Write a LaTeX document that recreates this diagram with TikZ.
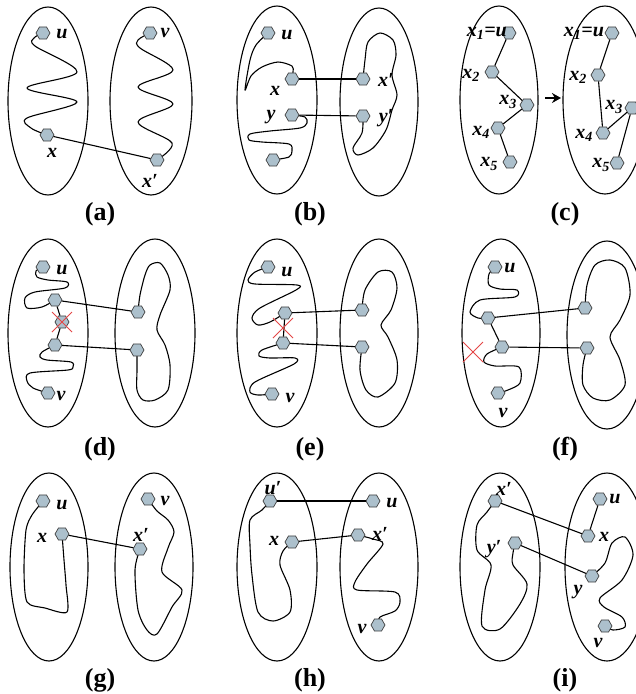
\documentclass[tikz,border=0pt]{standalone}
\usepackage{fontspec}
\setmainfont{Liberation Serif}
\usetikzlibrary{shapes.geometric,arrows.meta}
\pgfdeclarelayer{back}\pgfdeclarelayer{bg}\pgfsetlayers{back,bg,main}
\definecolor{vfill}{RGB}{172,192,204}
\definecolor{xred}{RGB}{228,70,70}
\tikzset{
 ell/.style={line width=1.1pt},
 wig/.style={line width=1.1pt,line join=round},
 vtx/.style={regular polygon,regular polygon sides=6,draw=black!75,fill=vfill,line width=0.7pt,minimum size=14pt,inner sep=0pt},
 lab/.style={font=\fontsize{20}{20}\selectfont\bfseries\itshape,inner sep=1pt},
 caplab/.style={font=\fontsize{26}{26}\selectfont\bfseries,inner sep=0pt},
 edge/.style={line width=1.1pt},
 redx/.style={xred,line width=1pt}
}
\begin{document}
\begin{tikzpicture}[x=1pt,y=-1pt]
\useasboundingbox (0,0) rectangle (636,694);
\clip (0,0) rectangle (636,694);
\begin{pgfonlayer}{back}
\fill[white] (0,0) rectangle (636,694);
\end{pgfonlayer}
% ---------- vertices ----------
% (a)
\node[vtx] (a-u) at (43,33) {};
\node[vtx] (a-x) at (47,135) {};
\node[vtx] (a-v) at (150,33) {};
\node[vtx] (a-xp) at (157,160) {};
% (b)
\node[vtx] (b-u) at (268,33) {};
\node[vtx] (b-x) at (292,79) {};
\node[vtx] (b-y) at (292,115) {};
\node[vtx] (b-w) at (273,160) {};
\node[vtx] (b-xp) at (363,79) {};
\node[vtx] (b-yp) at (363,116) {};
% (c)
\node[vtx] (c-1) at (509,33) {};
\node[vtx] (c-2) at (492,72) {};
\node[vtx] (c-3) at (527,105) {};
\node[vtx] (c-4) at (498,128) {};
\node[vtx] (c-5) at (510,162) {};
\node[vtx] (k-1) at (612,33) {};
\node[vtx] (k-2) at (598,75) {};
\node[vtx] (k-3) at (632,108) {};
\node[vtx] (k-4) at (603,133) {};
\node[vtx] (k-5) at (617,163) {};
% (d)
\node[vtx] (d-u) at (43,267) {};
\node[vtx] (d-a) at (55,300) {};
\node[vtx] (d-c) at (62,322) {};
\node[vtx] (d-b) at (55,345) {};
\node[vtx] (d-v) at (48,393) {};
\node[vtx] (d-ap) at (138,312) {};
\node[vtx] (d-bp) at (137,350) {};
% (e)
\node[vtx] (e-u) at (268,267) {};
\node[vtx] (e-a) at (285,313) {};
\node[vtx] (e-b) at (283,343) {};
\node[vtx] (e-v) at (272,394) {};
\node[vtx] (e-ap) at (362,310) {};
\node[vtx] (e-bp) at (362,347) {};
% (f)
\node[vtx] (f-u) at (495,267) {};
\node[vtx] (f-a) at (488,318) {};
\node[vtx] (f-b) at (502,347) {};
\node[vtx] (f-v) at (498,393) {};
\node[vtx] (f-ap) at (585,308) {};
\node[vtx] (f-bp) at (587,348) {};
% (g)
\node[vtx] (g-u) at (43,501) {};
\node[vtx] (g-x) at (62,534) {};
\node[vtx] (g-v) at (148,499) {};
\node[vtx] (g-xp) at (140,549) {};
% (h)
\node[vtx] (h-up) at (270,501) {};
\node[vtx] (h-u) at (373,501) {};
\node[vtx] (h-x) at (292,542) {};
\node[vtx] (h-xp) at (358,535) {};
\node[vtx] (h-v) at (378,625) {};
% (i)
\node[vtx] (i-xp) at (495,501) {};
\node[vtx] (i-yp) at (515,543) {};
\node[vtx] (i-u) at (600,499) {};
\node[vtx] (i-x) at (588,536) {};
\node[vtx] (i-y) at (592,576) {};
\node[vtx] (i-v) at (605,626) {};

\begin{pgfonlayer}{bg}
% ---------- ellipses ----------
\foreach \cx/\cy/\rx in {48/101/40,151/101/41,277/100/40,379/102/39,499/100/39,605/100/42,
  48/333/40,155/333/40,277/333/40,379/333/39,501/333/39,607/335/40,
  49/567/39,154/567/39,277/567/40,379/567/39,500/567/40,607/567/42}
  \draw[ell] (\cx,\cy) ellipse [x radius=\rx, y radius=94];
% ---------- wiggles ----------
% (a)
\draw[wig] plot[smooth,tension=0.55] coordinates {(a-u.center) (34,38) (35,46) (77,72) (27,88) (77,102) (27,118) (31,128) (a-x.center)};
\draw[wig] plot[smooth,tension=0.55] coordinates {(a-v.center) (138,40) (140,48) (173,70) (138,87) (173,104) (138,122) (172,143) (a-xp.center)};
% (b)
\draw[wig] plot[smooth,tension=0.5] coordinates {(b-u.center) (256,45) (250,60) (245,90) (251,76) (262,67) (278,62) (292,66) (293,72) (b-x.center)};
\draw[wig] plot[smooth,tension=0.5] coordinates {(b-y.center) (305,117) (307,123) (300,128) (270,131) (250,134) (249,140) (262,142) (289,144) (292,151) (289,157) (b-w.center)};
\draw[wig] plot[smooth,tension=0.5] coordinates {(b-xp.center) (365,60) (368,42) (380,33) (393,40) (396,55) (392,75) (397,95) (392,110) (386,130) (373,148) (358,155) (353,148) (362,133) (b-yp.center)};
% (d)
\draw[wig] plot[smooth,tension=0.5] coordinates {(d-u.center) (36,271) (37,277) (48,280) (67,282) (65,288) (35,292) (25,298) (27,308) (42,307) (d-a.center)};
\draw[wig] plot[smooth,tension=0.5] coordinates {(d-b.center) (42,352) (40,357) (47,360) (71,362) (73,367) (68,370) (30,373) (27,381) (33,388) (d-v.center)};
\draw[wig] plot[smooth,tension=0.5] coordinates {(d-ap.center) (140,295) (145,275) (150,265) (160,263) (168,275) (170,290) (160,315) (157,330) (165,345) (170,365) (168,390) (155,400) (143,400) (137,390) (137,370) (d-bp.center)};
% (e)
\draw[wig] plot[smooth,tension=0.5] coordinates {(e-u.center) (255,272) (248,280) (255,284) (297,285) (296,290) (260,308) (252,318) (258,325) (270,322) (e-a.center)};
\draw[wig] plot[smooth,tension=0.5] coordinates {(e-b.center) (262,350) (259,356) (270,358) (295,358) (294,364) (255,382) (250,392) (258,395) (e-v.center)};
\draw[wig] plot[smooth,tension=0.5] coordinates {(e-ap.center) (365,290) (378,272) (392,272) (397,288) (391,310) (381,325) (388,337) (397,360) (395,383) (378,397) (366,390) (360,370) (e-bp.center)};
% (f)
\draw[wig] plot[smooth,tension=0.5] coordinates {(f-u.center) (489,274) (489,285) (500,289) (517,290) (515,297) (480,300) (470,312) (478,318) (f-a.center)};
\draw[wig] plot[smooth,tension=0.5] coordinates {(f-b.center) (487,354) (484,362) (495,366) (519,367) (520,383) (508,390) (f-v.center)};
\draw[wig] plot[smooth,tension=0.5] coordinates {(f-ap.center) (587,285) (595,265) (610,260) (625,268) (630,295) (620,320) (610,337) (620,360) (625,385) (610,400) (593,398) (583,385) (583,365) (f-bp.center)};
% (g)
\draw[wig] plot[smooth,tension=0.45] coordinates {(g-u.center) (32,515) (26,530) (24,570) (27,602) (45,608) (67,612) (66,585) (64,560) (g-x.center)};
\draw[wig] plot[smooth,tension=0.5] coordinates {(g-v.center) (157,511) (168,520) (174,532) (168,548) (162,572) (182,590) (172,607) (157,634) (147,630) (138,610) (135,570) (g-xp.center)};
% (h)
\draw[wig] plot[smooth,tension=0.5] coordinates {(h-up.center) (262,510) (250,520) (250,545) (252,575) (258,612) (273,621) (290,612) (290,590) (280,565) (283,551) (h-x.center)};
\draw[wig] plot[smooth,tension=0.5] coordinates {(h-xp.center) (373,539) (383,544) (367,564) (355,582) (357,590) (395,592) (400,602) (395,611) (380,617) (h-v.center)};
% (i)
\draw[wig] plot[smooth,tension=0.5] coordinates {(i-xp.center) (487,512) (477,525) (477,550) (491,565) (485,590) (482,626) (500,629) (520,604) (527,584) (513,565) (513,553) (i-yp.center)};
\draw[wig] plot[smooth,tension=0.5] coordinates {(i-y.center) (605,563) (612,543) (625,537) (633,555) (622,580) (600,598) (604,607) (622,617) (625,627) (613,630) (i-v.center)};
\end{pgfonlayer}

% ---------- edges ----------
\draw[edge] (a-x) -- (a-xp);
\draw[edge] (b-x) -- (b-xp);
\draw[edge] (b-y) -- (b-yp);
\draw[edge] (c-1) -- (c-2) -- (c-3) -- (c-4) -- (c-5);
\draw[edge] (k-1) -- (k-2) -- (k-4) -- (k-3) -- (k-5);
\draw[edge] (d-a) -- (d-c) -- (d-b);
\draw[edge] (d-a) -- (d-ap);
\draw[edge] (d-b) -- (d-bp);
\draw[edge] (e-a) -- (e-b);
\draw[edge] (e-a) -- (e-ap);
\draw[edge] (e-b) -- (e-bp);
\draw[edge] (f-a) -- (f-b);
\draw[edge] (f-a) -- (f-ap);
\draw[edge] (f-b) -- (f-bp);
\draw[edge] (g-x) -- (g-xp);
\draw[edge] (h-up) -- (h-u);
\draw[edge] (h-x) -- (h-xp);
\draw[edge] (i-u) -- (i-x);
\draw[edge] (i-xp) -- (i-x);
\draw[edge] (i-yp) -- (i-y);
% arrow in (c)
\coordinate (c-ar1) at (545,98);
\coordinate (c-ar2) at (561,98);
\draw[line width=2.4pt,-{Stealth[length=9pt,width=10pt]}] (c-ar1) -- (c-ar2);
% red crosses
\coordinate (d-xc) at (62,322);
\draw[redx] ([shift={(-10,-10)}]d-xc) -- ([shift={(10,10)}]d-xc) ([shift={(-10,10)}]d-xc) -- ([shift={(10,-10)}]d-xc);
\coordinate (e-xc) at (283,328);
\draw[redx] ([shift={(-10,-10)}]e-xc) -- ([shift={(10,10)}]e-xc) ([shift={(-10,10)}]e-xc) -- ([shift={(10,-10)}]e-xc);
\coordinate (f-xc) at (473,352);
\draw[redx] ([shift={(-10,-10)}]f-xc) -- ([shift={(10,10)}]f-xc) ([shift={(-10,10)}]f-xc) -- ([shift={(10,-10)}]f-xc);

% ---------- labels ----------
\node[lab] (la1) at (62,34) {u};
\node[lab] (la2) at (52,153) {x};
\node[lab] (la3) at (165,33) {v};
\node[lab] (la4) at (150,181) {x′};
\node[lab] (lb1) at (287,35) {u};
\node[lab] (lb2) at (275,91) {x};
\node[lab] (lb3) at (271,117) {y};
\node[lab] (lb4) at (386,80) {x′};
\node[lab] (lb5) at (386,118) {y′};
\node[lab,anchor=east] (lc1) at (508,33) {x\textsubscript{1}=u};
\node[lab] (lc2) at (471,75) {x\textsubscript{2}};
\node[lab] (lc3) at (508,102) {x\textsubscript{3}};
\node[lab] (lc4) at (481,132) {x\textsubscript{4}};
\node[lab] (lc5) at (489,164) {x\textsubscript{5}};
\node[lab] (lk1) at (584,33) {x\textsubscript{1}=u};
\node[lab] (lk2) at (578,77) {x\textsubscript{2}};
\node[lab] (lk3) at (614,107) {x\textsubscript{3}};
\node[lab] (lk4) at (584,135) {x\textsubscript{4}};
\node[lab] (lk5) at (601,165) {x\textsubscript{5}};
\node[lab] (ld1) at (62,270) {u};
\node[lab] (ld2) at (61,396) {v};
\node[lab] (le1) at (287,272) {u};
\node[lab] (le2) at (290,398) {v};
\node[lab] (lf1) at (510,268) {u};
\node[lab] (lf2) at (503,413) {v};
\node[lab] (lg1) at (62,505) {u};
\node[lab] (lg2) at (42,538) {x};
\node[lab] (lg3) at (165,501) {v};
\node[lab] (lg4) at (141,535) {x′};
\node[lab] (lh1) at (273,488) {u′};
\node[lab] (lh2) at (392,503) {u};
\node[lab] (lh3) at (274,541) {x};
\node[lab] (lh4) at (380,534) {x′};
\node[lab] (lh5) at (362,629) {v};
\node[lab] (li1) at (504,489) {x′};
\node[lab] (li2) at (494,549) {y′};
\node[lab] (li3) at (615,499) {u};
\node[lab] (li4) at (604,537) {x};
\node[lab] (li5) at (578,592) {y};
\node[lab] (li6) at (598,643) {v};
% captions
\node[caplab] (ca) at (100,214) {(a)};
\node[caplab] (cb) at (310,214) {(b)};
\node[caplab] (cc) at (565,214) {(c)};
\node[caplab] (cd) at (100,449) {(d)};
\node[caplab] (ce) at (310,449) {(e)};
\node[caplab] (cf) at (565,449) {(f)};
\node[caplab] (cg) at (100,680) {(g)};
\node[caplab] (ch) at (310,680) {(h)};
\node[caplab] (ci) at (565,680) {(i)};
\end{tikzpicture}
\end{document}
